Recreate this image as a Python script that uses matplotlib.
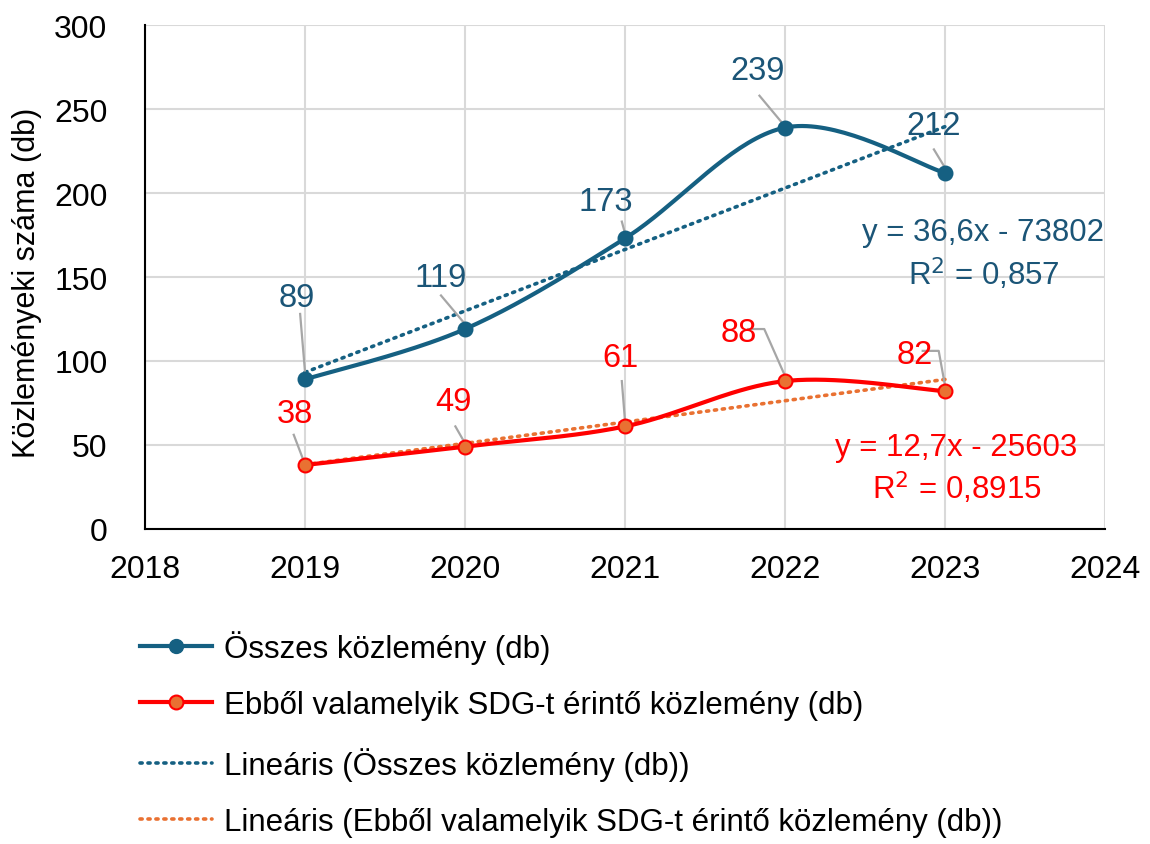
import numpy as np
import matplotlib
matplotlib.use("Agg")
import matplotlib.pyplot as plt
from matplotlib.lines import Line2D

# adatok
years = [2019, 2020, 2021, 2022, 2023]
osszes = [89, 119, 173, 239, 212]
sdg = [38, 49, 61, 88, 82]

lbl_all = "Összes közlemény (db)"
lbl_sdg = "Ebből valamelyik SDG-t érintő közlemény (db)"
lbl_tr_all = "Lineáris (Összes közlemény (db))"
lbl_tr_sdg = "Lineáris (Ebből valamelyik SDG-t érintő közlemény (db))"

C_BLUE = "#156082"
C_BLUE_TXT = "#1B5577"
C_RED = "#FF0000"
C_ORANGE = "#E97132"
C_LEAD = "#A6A6A6"

plt.rcParams["font.family"] = ["Liberation Sans", "DejaVu Sans"]


def excel_smooth(x, y, n=40):
    # Bezier-görbe Excel-szerű kontrollpontokkal
    x = np.asarray(x, float); y = np.asarray(y, float)
    P = np.column_stack([x, y])
    out = []
    for i in range(len(P) - 1):
        p0 = P[i - 1] if i > 0 else P[i]
        p3 = P[i + 2] if i + 2 < len(P) else P[i + 1]
        c1 = P[i] + (P[i + 1] - p0) / 6
        c2 = P[i + 1] - (p3 - P[i]) / 6
        t = np.linspace(0, 1, n)[:, None]
        seg = ((1 - t) ** 3) * P[i] + 3 * ((1 - t) ** 2) * t * c1 + 3 * (1 - t) * t ** 2 * c2 + t ** 3 * P[i + 1]
        out.append(seg if i == 0 else seg[1:])
    s = np.vstack(out)
    return s[:, 0], s[:, 1]


fig = plt.figure(figsize=(11.5, 8.45), dpi=100)
ax = fig.add_axes([0.126, 0.373, 0.835, 0.596])

xs = np.array(years, float)
for vals, col, mfc, tcol in [(osszes, C_BLUE, C_BLUE, C_BLUE), (sdg, C_RED, C_ORANGE, C_ORANGE)]:
    k, b = np.polyfit(xs, vals, 1)
    ax.plot([xs[0], xs[-1]], [k * xs[0] + b, k * xs[-1] + b], color=tcol, lw=2.6,
            linestyle=(0, (0.6, 1.6)), dash_capstyle="round", zorder=3)
    sx, sy = excel_smooth(years, vals)
    ax.plot(sx, sy, color=col, lw=3, zorder=4, solid_capstyle="round")
    ax.plot(years, vals, "o", ms=10, mfc=mfc, mec=col, mew=1.5, zorder=5)

# adatcímkék: (szöveg pozíció, vezető vonal töréspontjai)
lab_all = [((2018.95, 138), [(2018.97, 128), (2019.0, 94)]),
           ((2019.85, 150), [(2019.85, 139), (2020.0, 122)]),
           ((2020.88, 195), [(2020.98, 183), (2021.0, 176)]),
           ((2021.83, 273), [(2021.84, 258), (2021.98, 242)]),
           ((2022.93, 240), [(2022.93, 226), (2023.0, 215)])]
lab_sdg = [((2018.94, 68.5), [(2018.93, 56), (2018.99, 41)]),
           ((2019.93, 76), [(2019.94, 61), (2020.0, 51)]),
           ((2020.97, 102), [(2020.98, 88), (2021.0, 64)]),
           ((2021.71, 117), [(2021.77, 119), (2021.87, 119), (2022.0, 91)]),
           ((2022.81, 104), [(2022.86, 106), (2022.96, 106), (2023.0, 85)])]
for labs, vals, tc in [(lab_all, osszes, C_BLUE_TXT), (lab_sdg, sdg, C_RED)]:
    for (pos, lead), v in zip(labs, vals):
        lx, ly = zip(*lead)
        ax.plot(lx, ly, color=C_LEAD, lw=1.6, zorder=4.5)
        ax.text(pos[0], pos[1], str(v), color=tc, fontsize=23.5, ha="center", va="center", zorder=6)

ax.text(2023.24, 177, "y = 36,6x - 73802", color=C_BLUE_TXT, fontsize=22.5, ha="center", va="center")
ax.text(2023.24, 152, "R$^2$ = 0,857", color=C_BLUE_TXT, fontsize=22.5, ha="center", va="center")
ax.text(2023.07, 49, "y = 12,7x - 25603", color=C_RED, fontsize=22.5, ha="center", va="center")
ax.text(2023.07, 25, "R$^2$ = 0,8915", color=C_RED, fontsize=22.5, ha="center", va="center")

ax.set_xlim(2018, 2024)
ax.set_ylim(0, 300)
ax.set_xticks(range(2018, 2025))
ax.set_yticks(range(0, 301, 50))
ax.grid(True, color="#D9D9D9", lw=1.5)
ax.set_axisbelow(True)
for s in ["top", "right"]:
    ax.spines[s].set_visible(False)
for s in ["left", "bottom"]:
    ax.spines[s].set_color("black")
    ax.spines[s].set_linewidth(1.5)
ax.tick_params(length=0, labelsize=23)
ax.tick_params(axis="x", pad=18)
ax.tick_params(axis="y", pad=27)
ax.set_ylabel("Közleményeki száma (db)", fontsize=22)
ax.yaxis.set_label_coords(-0.107, 0.49)

handles = [
    Line2D([], [], color=C_BLUE, lw=3, marker="o", ms=10, mfc=C_BLUE, mec=C_BLUE),
    Line2D([], [], color=C_RED, lw=3, marker="o", ms=10, mfc=C_ORANGE, mec=C_RED, mew=1.5),
    Line2D([], [], color=C_BLUE, lw=2.6, linestyle=(0, (0.6, 1.6)), dash_capstyle="round"),
    Line2D([], [], color=C_ORANGE, lw=2.6, linestyle=(0, (0.6, 1.6)), dash_capstyle="round"),
]
fig.legend(handles, [lbl_all, lbl_sdg, lbl_tr_all, lbl_tr_sdg], loc="upper left",
           bbox_to_anchor=(0.108, 0.272), frameon=False, fontsize=22.5, labelspacing=0.85,
           handlelength=2.3, handletextpad=0.4, borderpad=0)

fig.savefig("out.png", dpi=100)
